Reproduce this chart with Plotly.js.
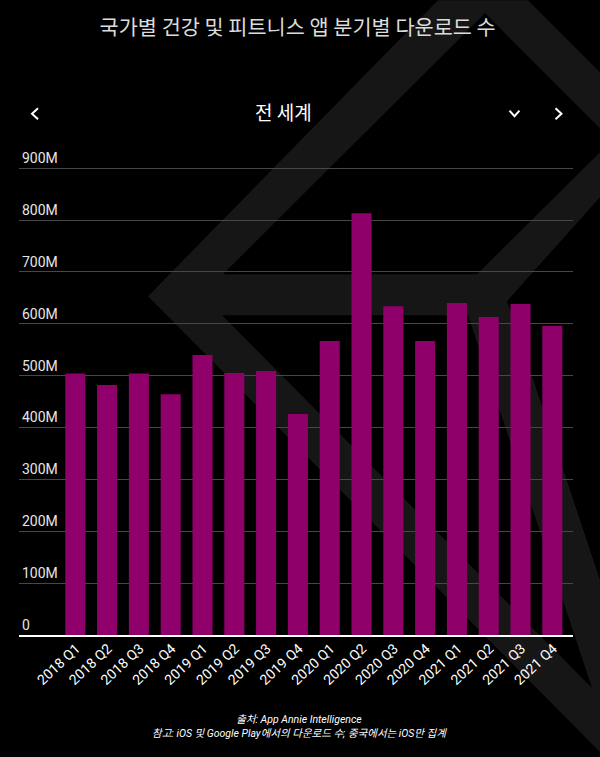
<!DOCTYPE html>
<html><head><meta charset="utf-8">
<script src="https://cdn.plot.ly/plotly-3.0.1.min.js"></script>
<style>html,body{margin:0;padding:0;background:#000;overflow:hidden}#c{width:600px;height:757px}</style>
</head><body><div id="c"></div>
<script>
const quarters = ["2018 Q1","2018 Q2","2018 Q3","2018 Q4","2019 Q1","2019 Q2","2019 Q3","2019 Q4","2020 Q1","2020 Q2","2020 Q3","2020 Q4","2021 Q1","2021 Q2","2021 Q3","2021 Q4"];
const downloads = [504,482,504,464,540,505,509,426,567,813,634,567,640,613,638,596];
const yTickValues = [0,100,200,300,400,500,600,700,800,900];
const yTickLabels = ["0","100M","200M","300M","400M","500M","600M","700M","800M","900M"];
const titleText = "국가별 건강 및 피트니스 앱 분기별 다운로드 수";
const subtitleText = "전 세계";
const footnoteText = "출처: App Annie Intelligence<br>참고: iOS 및 Google Play에서의 다운로드 수; 중국에서는 iOS만 집계";

const W=600,H=757,L=19,R=27,T=162.8,B=122;
const px=x=>(x-L)/(W-L-R), py=y=>(H-B-y)/(H-T-B);
const path=(pts,close)=>pts.map((p,i)=>(i?'L':'M')+px(p[0]).toFixed(4)+','+py(p[1]).toFixed(4)).join(' ')+(close?' Z':'');
const logoOuter=[[148,296],[438,0],[528,0],[600,72],[600,128],[485,13],[223,274],[477,274],[600,152],[600,197],[507,301],[600,580],[600,752]];
const logoHole=[[222,315],[592,688],[468,315]];
const chevrons=[[[38,108],[32,113.5],[38,119]],[[509.5,110.5],[514.5,116],[519.5,110.5]],[[555.5,108],[561.5,113.5],[555.5,119]]];
const font='Roboto, "Noto Sans CJK KR", sans-serif';
const cjk='"Noto Sans CJK KR", sans-serif';
const shapes=[{type:'path',xref:'paper',yref:'paper',layer:'below',path:path(logoOuter,true)+' '+path(logoHole,true),fillcolor:'#161616',line:{width:0}}]
 .concat(chevrons.map(c=>({type:'path',xref:'paper',yref:'paper',layer:'above',path:path(c,false),line:{color:'#fff',width:2}})));

Plotly.newPlot('c',[{type:'bar',x:quarters,y:downloads,marker:{color:'#90006A',line:{width:0}},hoverinfo:'x+y'}],{
 width:W,height:H,margin:{l:L,r:R,t:T,b:B,pad:0},paper_bgcolor:'#000',plot_bgcolor:'rgba(0,0,0,0)',
 font:{family:font,color:'#fff'},showlegend:false,bargap:0.37,
 title:{text:titleText,font:{family:cjk,size:20.8,color:'#dcdcdc'},x:0.503,xref:'paper',xanchor:'center',y:1-28/H,yref:'container',yanchor:'middle'},
 xaxis:{type:'category',categoryorder:'array',categoryarray:quarters,range:[-1.77,15.65],tickangle:-43,ticklabelshift:1,ticklabelstandoff:-2,tickfont:{family:font,size:14,color:'#fff'},showline:true,linecolor:'#fff',linewidth:2,showgrid:false,zeroline:false,ticks:'',fixedrange:true},
 yaxis:{range:[0,910],tickvals:yTickValues,ticktext:yTickLabels,ticklabelposition:'inside',ticklabeloverflow:'allow',ticklabelshift:-10,tickfont:{family:font,size:14,color:'#e6e6e6'},showgrid:true,gridcolor:'#474747',gridwidth:1,zeroline:false,showline:false,ticks:'',fixedrange:true},
 shapes:shapes,
 annotations:[
  {text:subtitleText,xref:'paper',yref:'paper',x:px(283),y:py(111),xanchor:'center',yanchor:'middle',showarrow:false,font:{family:cjk,size:19,color:'#fff'}},
  {text:footnoteText,xref:'paper',yref:'paper',x:px(299),y:py(726.5),xanchor:'center',yanchor:'middle',showarrow:false,align:'center',font:{family:font,size:10.5,color:'#fff',style:'italic'}}
 ]
},{displayModeBar:false,staticPlot:true});
</script></body></html>
